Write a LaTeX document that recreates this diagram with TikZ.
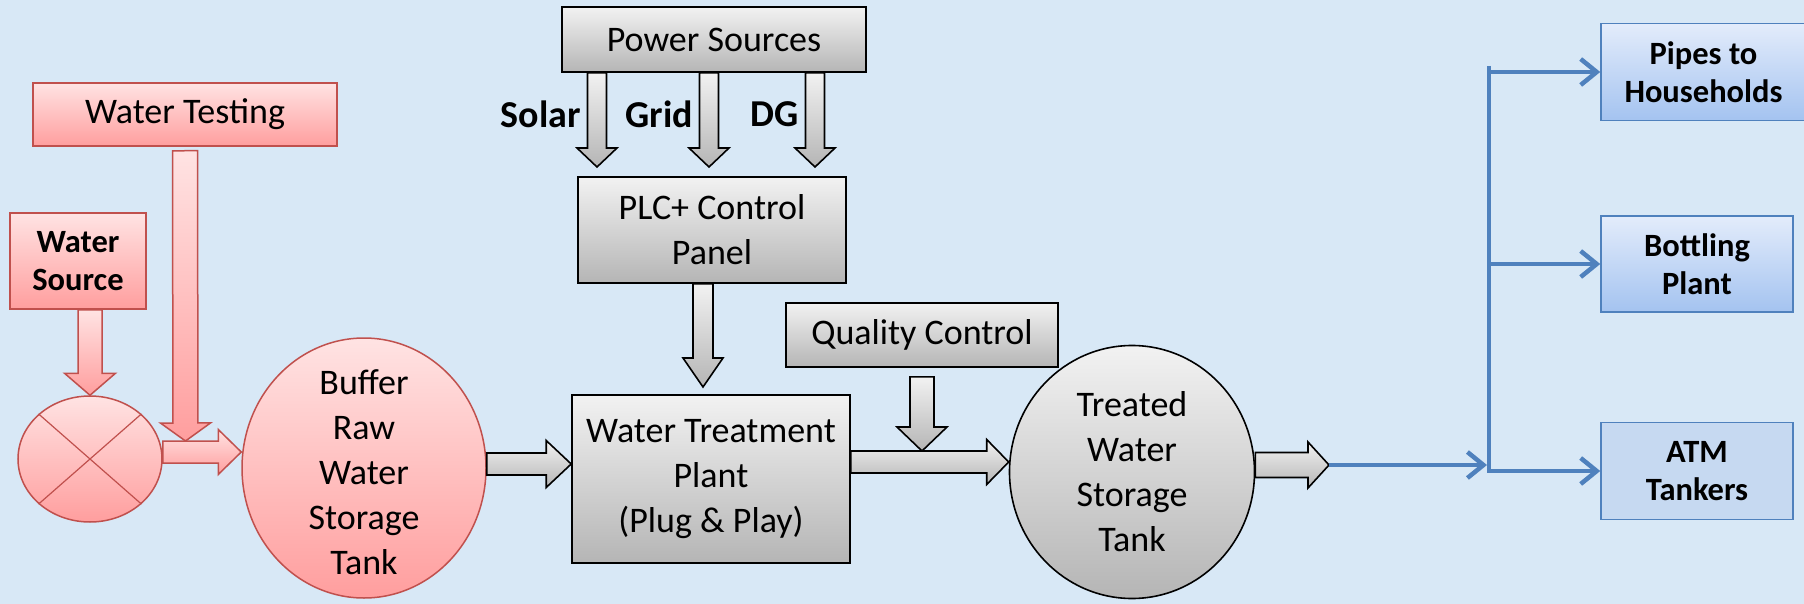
\documentclass[tikz,border=0pt]{standalone}
\usepackage{fontspec}
\setmainfont{Carlito}
\usepackage{xcolor}
\usepackage{tikz}
\usetikzlibrary{arrows.meta, positioning, shapes.geometric, calc}
\definecolor{Backdrop}{HTML}{D8E8F6}
\definecolor{RawLine}{HTML}{C0504D}
\definecolor{RawTop}{HTML}{FFE3E3}
\definecolor{RawBottom}{HTML}{FF9E9E}
\definecolor{PlantTop}{HTML}{F2F2F2}
\definecolor{PlantBottom}{HTML}{B5B5B5}
\definecolor{FlowBlue}{HTML}{4F81BD}
\definecolor{OutTop}{HTML}{E3ECFB}
\definecolor{OutBottom}{HTML}{A4C3F0}
\definecolor{OutFlat}{HTML}{C6D9F1}

\begin{document}
\begin{tikzpicture}[x=1pt, y=-1pt,
    rawfill/.style={draw=RawLine, line width=1.5pt, top color=RawTop, bottom color=RawBottom},
    plantfill/.style={draw=black, line width=1.6pt, top color=PlantTop, bottom color=PlantBottom},
    outfill/.style={draw=FlowBlue, line width=1.5pt, top color=OutTop, bottom color=OutBottom},
    block/.style={rectangle, inner sep=0pt, align=center},
    tank/.style={ellipse, inner sep=0pt},
    bigtxt/.style={font=\fontsize{36}{45}\selectfont},
    boldtxt/.style={font=\fontsize{32.5}{38}\selectfont\bfseries},
    % fat arrow: half shaft, half head, head length
    fatarrow/.style n args={3}{to path={
        ($(\tikztostart)!#1!90:(\tikztotarget)$)
        -- ($($(\tikztotarget)!#3!(\tikztostart)$)!#1!90:(\tikztotarget)$)
        -- ($($(\tikztotarget)!#3!(\tikztostart)$)!#2!90:(\tikztotarget)$)
        -- (\tikztotarget)
        -- ($($(\tikztotarget)!#3!(\tikztostart)$)!#2!-90:(\tikztotarget)$)
        -- ($($(\tikztotarget)!#3!(\tikztostart)$)!#1!-90:(\tikztotarget)$)
        -- ($(\tikztostart)!#1!-90:(\tikztotarget)$) -- cycle}},
    pipe/.style={draw=FlowBlue, line width=4.5pt},
    barb/.style={-{Straight Barb[length=16pt, width=26pt]}}
  ]
  \fill[Backdrop] (0,0) rectangle (1804,604);
  \useasboundingbox (0,0) rectangle (1804,604);

  % raw water
  \node[block, rawfill, bigtxt, minimum width=304pt, minimum height=63pt] (test) at (185,114.5) {Water Testing};
  \node[block, rawfill, boldtxt, minimum width=136pt, minimum height=96pt] (src) at (78,261) {Water\\Source};
  \node[tank, rawfill, minimum width=144pt, minimum height=126pt] (valve) at (90,459) {};
  \draw[RawLine, line width=1.2pt] (valve.north west) -- (valve.south east)
    (valve.north east) -- (valve.south west);
  \node[tank, rawfill, minimum width=244pt, minimum height=260pt,
    label={[bigtxt, align=center, yshift=-4pt]center:Buffer\\Raw\\Water\\Storage\\Tank}] (buffer) at (364,468) {};

  % plant
  \node[block, plantfill, bigtxt, minimum width=304pt, minimum height=65pt] (power) at (714,39.5) {Power Sources};
  \node[block, plantfill, bigtxt, minimum width=268pt, minimum height=106pt] (plc) at (712,230) {PLC+ Control\\Panel};
  \node[block, plantfill, bigtxt, minimum width=278pt, minimum height=168pt] (wtp) at (711,479) {Water Treatment\\Plant\\(Plug \& Play)};
  \node[block, plantfill, bigtxt, minimum width=272pt, minimum height=64pt] (qc) at (922,335) {Quality Control};
  \node[tank, plantfill, minimum width=245pt, minimum height=253pt,
    label={[bigtxt, align=center]center:Treated\\Water\\Storage\\Tank}] (treated) at (1132,472) {};

  % outlets
  \node[block, outfill, boldtxt, minimum width=205pt, minimum height=97pt] (pipes) at (1703.5,72) {Pipes to\\Households};
  \node[block, outfill, boldtxt, minimum width=192pt, minimum height=96pt] (bottling) at (1697,264) {Bottling\\Plant};
  \node[block, boldtxt, draw=FlowBlue, line width=1.5pt, fill=OutFlat, minimum width=192pt, minimum height=97pt] (atm) at (1697,471) {ATM\\Tankers};

  \coordinate (tjoin) at (185.5,441);
  \coordinate (rawline) at (0,452);
  \coordinate (feedline) at (0,464);
  \coordinate (treatline) at (0,462);
  \coordinate (plctip) at (703,387);
  \coordinate (qctip) at (922,451);
  \coordinate (outtip) at (1329,465);
  \coordinate (bus) at (1489,0);

  \draw[rawfill, fatarrow={12pt}{25.5pt}{22pt}] (valve.north |- src.south) to (valve.north);
  \draw[rawfill, fatarrow={12.5pt}{25pt}{18pt}] ($(test.south)+(0,4)$) to (tjoin);
  \draw[rawfill, fatarrow={11pt}{22.5pt}{23pt}] (valve.east |- rawline) to (buffer.west |- rawline);

  \foreach \px/\src in {597/Solar, 709/Grid, 815/DG} {
    \coordinate (ptip) at (\px,167);
    \draw[plantfill, fatarrow={9.5pt}{20pt}{19pt}] (power.south -| ptip) to (ptip);
    \node[anchor=east, inner sep=0pt, font=\fontsize{38}{44}\selectfont\bfseries] (lbl-\src) at (\px-16,114) {\src};
  }
  \draw[plantfill, fatarrow={10pt}{20pt}{29pt}] (plc.south -| plctip) to (plctip);
  \draw[plantfill, fatarrow={11pt}{23.5pt}{25pt}] (buffer.east |- feedline) to (wtp.west |- feedline);
  \draw[plantfill, fatarrow={12pt}{25pt}{24pt}] ($(qc.south)+(0,9)$) to (qctip);
  \draw[plantfill, fatarrow={11pt}{22.5pt}{22pt}] (wtp.east |- treatline) to (treated.west |- treatline);
  \draw[plantfill, fatarrow={12.5pt}{23pt}{21pt}] (treated.east |- outtip) to (outtip);

  % distribution
  \draw[pipe, barb, shorten >=2pt] (outtip) -- (bus |- outtip);
  \draw[pipe] ($(bus |- pipes.west)+(0,-6)$) -- ($(bus |- atm.west)+(0,2)$);
  \foreach \dest in {pipes, bottling, atm}
    \draw[pipe, barb] (bus |- \dest.west) -- (\dest.west);
\end{tikzpicture}
\end{document}
